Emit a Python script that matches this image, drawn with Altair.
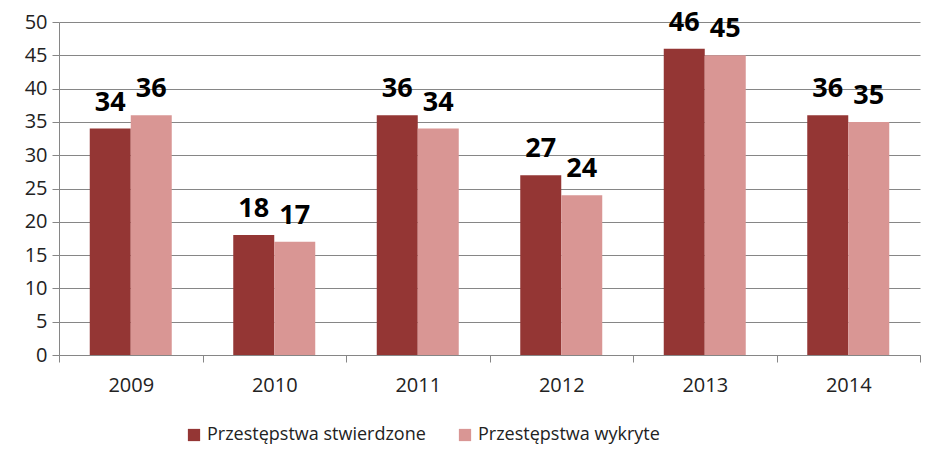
import altair as alt
import pandas as pd

years = ["2009", "2010", "2011", "2012", "2013", "2014"]
stwierdzone = [34, 18, 36, 27, 46, 36]
wykryte = [36, 17, 34, 24, 45, 35]
series = ["Przestępstwa stwierdzone", "Przestępstwa wykryte"]
colors = ["#943634", "#D99694"]
y_ticks = [0, 5, 10, 15, 20, 25, 30, 35, 40, 45, 50]

rows = []
for i, y in enumerate(years):
    rows.append({"rok": y, "seria": series[0], "v": stwierdzone[i]})
    rows.append({"rok": y, "seria": series[1], "v": wykryte[i]})
df = pd.DataFrame(rows)

FONT = "Open Sans"

x = alt.X("rok:N", sort=years, title=None,
          scale=alt.Scale(paddingInner=0, paddingOuter=0),
          axis=alt.Axis(labelAngle=0, labelFontSize=20, labelColor="#222", labelFont=FONT,
                        tickBand="extent", tickSize=7, tickColor="#868686",
                        domainColor="#868686", labelPadding=13, grid=False))
xo = alt.XOffset("seria:N", sort=series,
                 scale=alt.Scale(paddingInner=0, paddingOuter=0.75))
y = alt.Y("v:Q", title=None,
          scale=alt.Scale(domain=[0, 50], nice=False),
          axis=alt.Axis(values=y_ticks, labelFontSize=20, labelColor="#222",
                        labelFont=FONT, tickSize=7, tickColor="#868686", domainColor="#868686",
                        gridColor="#868686", labelPadding=5, labelOverlap=False))

bars = alt.Chart(df).mark_bar().encode(
    x=x, xOffset=xo, y=y,
    color=alt.Color("seria:N", sort=series,
                    scale=alt.Scale(domain=series, range=colors),
                    legend=alt.Legend(title=None, orient="none", direction="horizontal",
                                      legendX=126, legendY=404, symbolType="square",
                                      symbolSize=150, symbolStrokeWidth=0, labelFontSize=18,
                                      labelFont=FONT, labelColor="#222", columnPadding=30,
                                      labelOffset=4, symbolOpacity=1, labelLimit=500)),
)

labels = alt.Chart(df).mark_text(font=FONT, fontSize=27, fontWeight="bold", color="black",
                                 baseline="alphabetic", dy=-18).encode(
    x=x, xOffset=xo, y=y, text=alt.Text("v:Q"),
)

chart = (bars + labels).properties(
    width=861, height=333,
    autosize=alt.AutoSizeParams(type="none"),
    padding={"left": 51, "top": 14, "right": 1, "bottom": 103},
).configure_view(stroke=None)

chart.save("out.html", embed_options={"renderer": "svg", "actions": False})
